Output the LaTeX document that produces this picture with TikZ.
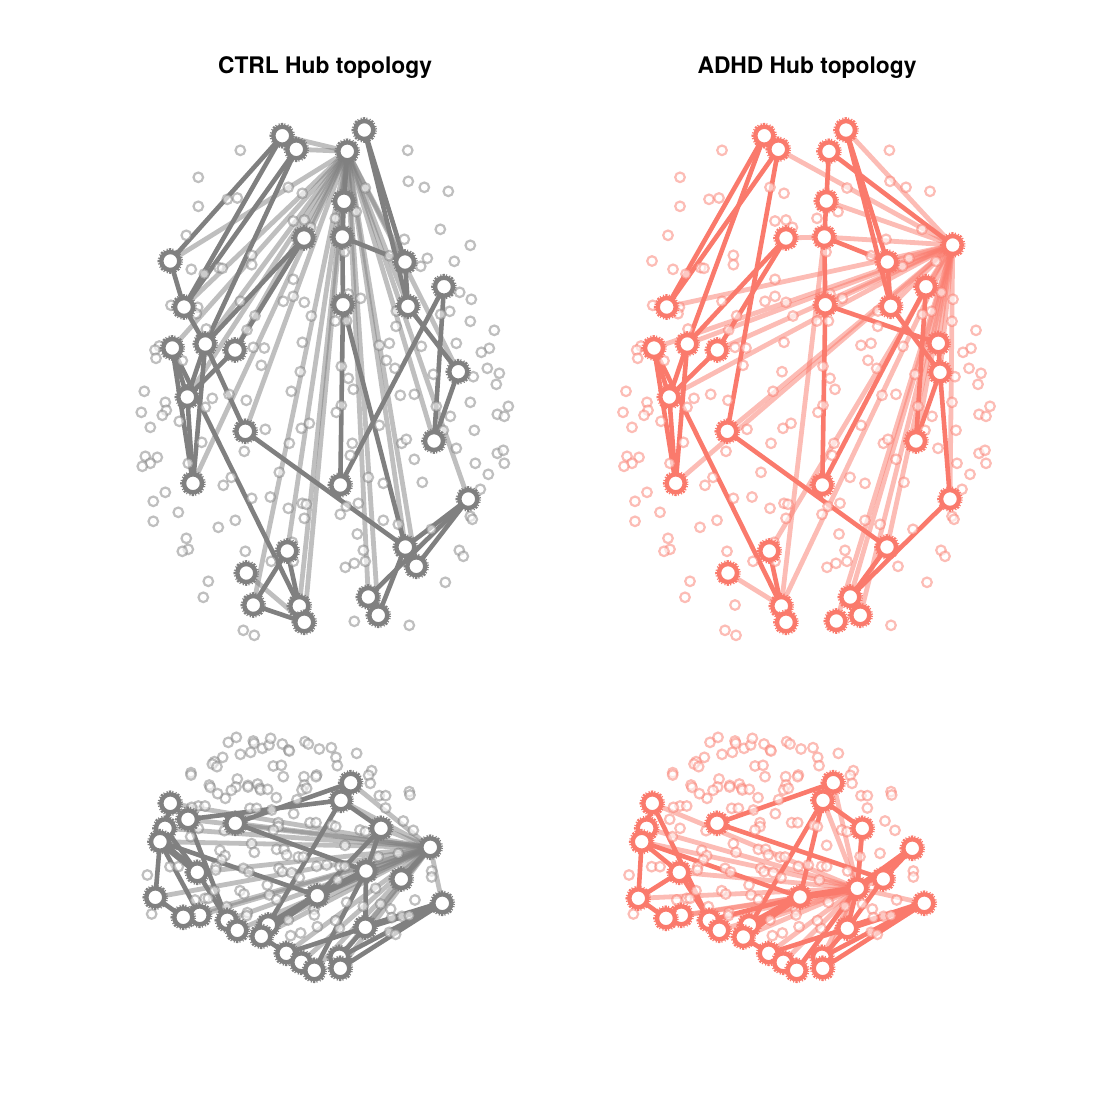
\documentclass[tikz,border=0pt]{standalone}
\usepackage{fontspec}
\setmainfont{TeX Gyre Heros}
\pgfdeclarelayer{edgelayer}
\pgfsetlayers{edgelayer,main}

% small nodes, seen from above
\newcommand{\smalltop}{240.3/150.3,198.3/177.3,198.3/206.3,227.3/199.3,237.3/198,288.3/187.3,302.3/193.3,186.3/235.3,293.3/221,304.3/220,310.7/227.3,251.7/255.3,251.7/264.7,191.3/269.3,219/267.7,222.3/268.3,204.3/274,293.3/279.3,293.3/296.3,283.3/301.3,304.3/302.3,240.3/301.3,255/315.7,311.3/316,171/305.3,197.7/307.3,196.3/313.7,206.3/329,247/330,253.3/347.3,264.3/348,302.3/342.3,261.3/365.3,300.3/371.7,159.3/346,155/350,156/358.3,182.3/360.7,335.3/218.3,356.3/211.7,365.3/188,344.3/252,348.3/294,360.7/298.3,335.3/321,346.7/321,341.3/366.3,348.3/378.3,379.3/345.3,389.3/343.3,386.3/360.3,395/368.3,396/326.3,396.3/311,407.7/150.3,408.3/181.3,424.3/187.3,448.3/191.3,440.3/229.3,470.3/245.3,404.3/239.3,389.3/255.7,427.3/258.3,420.7/266.3,454.3/261.3,459.7/292.3,471.3/299.3,470.3/321.3,449.7/311.3,440.7/314.3,494.3/330.3,489.3/348.3,481.3/352.3,456.3/343.3,421.3/346.3,487.3/368.3,499.3/373.3,433.3/374.3,473.3/376.7,144.3/391.3,165.3/402.3,166.3/410.3,162.3/415.3,141.3/412.3,150.3/427.3,179.3/421.3,212.3/398.3,205.3/407.3,229/394.3,246.3/400.3,265.3/429.3,244.3/451.3,201.7/442.3,145.3/456.3,157.3/457.3,150.3/463.3,142.3/466.3,188.3/463.3,231.3/477.3,223.3/485.3,165.3/492.3,153.3/501.3,178.3/512.3,153.3/521.3,251.7/498.3,270.3/497,235.3/520.3,218.3/527.3,186.3/538.3,188.3/549.3,182.3/551.3,245.3/551.3,208.3/581.3,203.3/597.3,243.3/630.3,254.3/635.3,291.3/391.3,301.3/428.3,309.3/423.3,289.3/443.3,279.3/472.3,288.3/508.3,302.3/503.3,306.3/504.3,304.3/518.3,292.3/542.3,293.3/561.3,271.3/561.3,341.3/405.3,336.3/412.3,353.3/389.3,352.3/443.3,350.3/455.3,368.3/477.3,383.3/483.3,379.3/425.3,400.3/395.3,414.3/394.3,401.7/443.3,406.3/439.3,414.3/459.3,422.3/482.3,456.3/448.3,474.3/430.3,470.3/402.3,496.3/384.3,508.3/406.3,497.3/414.3,504.3/416.3,450.3/416.3,436.3/406.3,443.3/430.3,497.3/453.3,503.3/450.3,504.3/463.3,475.3/463.3,488.3/474.3,480.3/489.3,470.3/516.3,472.3/519.3,459.3/550.3,463.3/556.3,431.3/529.3,445.3/582.3,409.3/625.3,354.3/621.3,345.3/567.3,354.3/563.3,365.3/561.3,363.3/550.3,357.3/534,340.3/514.3,346.3/506.3,358.3/503.3,383.3/520.3,398.3/524.3,170.3/261,253.3/605,416.3/566.3}

% small nodes, seen from the side
\newcommand{\smallside}{295/52,319/37,370/48,372/55,397/70,417/60,422/40,457/57,476/75,478/78,525/50,535/57,568/72,604/68,618/97,622/122,680/85,331/88,362/82,278/97,253/110,247/117,261/125,430/123,454/121,460/155,522/155,560/150,558/155,725/137,716/151,721/175,183/143,183/150,238/180,241/187,322/162,318/186,304/196,286/220,263/206,354/181,354/186,383/177,390/190,392/195,413/193,439/218,523/180,516/195,530/190,501/224,491/266,748/212,767/212,767/249,838/200,840/210,820/288,850/316,360/250,380/250,425/255,205/243,225/243,185/247,445/293,445/305,430/315,540/293,558/293,605/300,617/305,690/315,706/320,283/317,205/310,182/335,365/356,373/382,440/373,462/373,470/390,505/396,520/396,645/361,805/385,745/395,270/376,285/392,275/405,258/425,257/435,120/425,145/425,340/430,357/441,447/430,457/440,485/443,508/458,560/424,590/420,630/424,645/424,623/465,52/450,412/480,330/497,342/507,418/510,440/524,225/520,235/520,195/525,65/567,855/525,905/438,905/456,737/490,700/544,752/537,782/552,650/532,552/553,553/570,475/585,352/563,350/572,290/545,562/605,628/610,617/587,482/632,512/624,785/578,816/574,838/572,778/622,797/628,253/497,174/283,708/438}

\begin{document}
\begin{tikzpicture}[
    x=.5pt, y=-.5pt,
    hub/.style = {circle, fill=white, draw=#1, line width=2.2pt, minimum size=9pt, inner sep=0pt, outer sep=0pt,
        preaction={draw=#1, line width=3.8pt, dash pattern=on .55pt off .6pt}},
    smallnode/.style = {circle, draw=#1, draw opacity=.5, fill=white, fill opacity=.6, line width=1.1pt, minimum size=4.8pt, inner sep=0pt, outer sep=0pt},
    hubline/.style = {draw=#1, line width=2.3pt},
    heavyline/.style = {draw=#1, line width=3.4pt},
    fanline/.style = {draw=#1, draw opacity=.5, line width=2.4pt},
    brainname/.style = {font=\bfseries\fontsize{11.4}{14}\selectfont, inner sep=0pt}
    ]
    \useasboundingbox (0,0) rectangle (1094,1094);
    \definecolor{ctrlcol}{HTML}{808080}
    \definecolor{adhdcol}{HTML}{FA7A6C}

    \node[brainname] (ctrltitle) at (325,68) {CTRL Hub topology};
    \node[brainname] (adhdtitle) at (807,68) {ADHD Hub topology};

    % small nodes
    \foreach \x/\y [count=\i] in \smalltop {
        \node[smallnode=ctrlcol] (ct\i) at (\x,\y) {};
        \node[smallnode=adhdcol] (at\i) at (\x+481.7,\y) {};
    }
    \begin{scope}[shift={(130,725)}, scale=.3333]
        \foreach \x/\y [count=\i] in \smallside
            \node[smallnode=ctrlcol] (cs\i) at (\x,\y) {};
    \end{scope}
    \begin{scope}[shift={(611.7,725)}, scale=.3333]
        \foreach \x/\y [count=\i] in \smallside
            \node[smallnode=adhdcol] (as\i) at (\x,\y) {};
    \end{scope}

    % hubs CTRL, top
    \foreach \n/\x/\y in {1/282.3/135.7,2/296.3/149.3,3/347.3/151.3,4/364.3/130,5/344/201.3,6/304/238,7/342.3/237,8/170.3/261,9/405/262,10/444/286.7,11/184/307,12/343/304.7,13/408/306.3,14/172.3/348,15/205.3/344,16/235/350,17/458.3/371.7,18/187.3/397,19/245.3/431.3,20/434/441,21/193/483.3,22/340.3/485,23/468.3/499,24/405.3/547,25/287.3/551,26/416.3/566.3,27/246.3/573,28/253.3/605,29/299.3/606,30/368.3/597,31/378.3/615.3,32/304.3/622.3}
        \node[hub=ctrlcol] (c\n) at (\x,\y) {};
    % hubs ADHD, top
    \foreach \n/\x/\y in {1/764.3/135.7,2/778.3/149.3,3/829/151.3,4/846/130,5/826.3/201,6/786/238,7/824.3/237,9/887.3/262,10/926/286.7,11/666.7/307,12/825.3/304.7,13/890.7/306.3,14/654/348,15/687.3/344,16/717.3/350,17/940/372.3,18/669.3/397,19/727.3/431.3,20/916/441,21/675.7/483.3,22/822.3/485,23/950/499,24/887/547,25/769.3/551,27/728/573,29/781.3/606,30/850.3/597,31/860.3/615.3,32/786/622.3,33/952.7/245,34/938.3/343.3,35/836.3/621}
        \node[hub=adhdcol] (a\n) at (\x,\y) {};
    % hubs CTRL, side
    \foreach \n/\x/\y in {1/350.7/782.7,2/341/800.3,3/170.3/803.3,4/188/819.3,5/235.3/823.3,6/381/828.3,7/165/828.3,8/160/841.7,9/430.3/847.3,10/366/871,11/197.3/872.3,12/401.3/879,13/317.3/895.7,14/155.3/897.3,15/442.3/903.3,16/199.7/915.3,17/183.3/917.3,18/227.3/920.3,19/237.3/930.3,20/268.3/925,21/261.3/936.3,22/365.3/927.3,23/286.3/953.3,24/301.3/962.3,25/314.3/970.3,26/339.3/957.3,27/340.3/968.3}
        \node[hub=ctrlcol] (d\n) at (\x,\y) {};
    % hubs ADHD, side
    \foreach \n/\x/\y in {1/833.3/782.7,2/823/800.3,3/652.3/803.3,5/717/823.3,6/862.3/828.3,7/646.7/828.3,8/641.7/841.7,9/912.3/848.3,10/857.3/888.3,11/679.3/872.3,12/883.3/879,13/800/897,14/638.3/898.3,15/924.3/903.3,16/681.3/915.3,17/666/918.3,18/709.3/920.3,19/719.3/930.3,20/749.3/925,21/743.3/937,22/847.3/928.3,23/768.7/953.3,24/783.3/962.3,25/796.7/970.3,26/822/957.3,27/822.7/968.3}
        \node[hub=adhdcol] (e\n) at (\x,\y) {};

    \begin{pgfonlayer}{edgelayer}
        % light lines
        \foreach \b in {1,2,6,8,9,11,13,14,15,16,17,18,19,20,21,23,24,25,26,28,29,30,31,32}
            \draw[fanline=ctrlcol] (c3) -- (c\b);
        \draw[fanline=ctrlcol] (c27) -- (c32);
        \foreach \b in {2,4,5,7,9,10,11,12,13,14,15,16,17,18,19,20,21,23,24,25,29,30,31,34,35}
            \draw[fanline=adhdcol] (a33) -- (a\b);
        \draw[fanline=adhdcol] (a6) -- (a7);
        \draw[fanline=adhdcol] (a7) -- (a29);
        \draw[fanline=adhdcol] (a27) -- (a29);
        \foreach \b in {1,2,3,4,5,6,7,8,10,11,12,13,14,15,16,17,18,19,20,21,22,23,24,25,26,27}
            \draw[fanline=ctrlcol] (d9) -- (d\b);
        \foreach \b in {1,2,3,6,7,8,9,11,12,14,15,16,17,18,19,20,21,23,24,25,26,27}
            \draw[fanline=adhdcol] (e10) -- (e\b);

        % hub lines
        \foreach \a/\b in {1/8,1/11,2/11,2/15,8/11,11/15,6/15,6/16,16/18,14/18,14/21,15/18,15/21,18/21,15/19,14/29,3/5,5/7,7/12,12/22,7/9,4/9,4/13,9/13,13/17,10/22,10/20,17/20,12/24,19/24,23/24,23/26,23/30,24/31,25/28,25/29,28/32}
            \draw[hubline=ctrlcol] (c\a) -- (c\b);
        \foreach \a/\b in {1/11,2/11,1/15,2/19,3/5,5/7,7/12,12/22,3/33,4/9,4/13,9/13,7/9,12/34,13/17,34/17,10/22,10/20,17/20,17/23,6/15,6/16,16/18,15/18,14/18,14/21,15/21,18/21,14/29,19/24,23/30,24/30,25/29}
            \draw[hubline=adhdcol] (a\a) -- (a\b);
        \foreach \a/\b in {1/5,2/4,2/6,5/10,2/21,6/10,6/13,10/22,10/25,8/13,4/18,7/11,8/14,8/16,3/7,11/18,13/21,15/26,15/27,22/23,22/26,14/17,21/23,23/24,24/25,18/19,9/12}
            \draw[hubline=ctrlcol] (d\a) -- (d\b);
        \foreach \a/\b in {10/13,8/11,13/20,15/22}
            \draw[heavyline=ctrlcol] (d\a) -- (d\b);
        \foreach \a/\b in {1/5,2/13,2/21,2/6,5/12,8/13,6/10,9/12,10/25,10/22,12/22,7/8,3/7,8/14,8/11,11/14,11/18,3/18,14/17,13/21,13/18,15/26,15/27,22/23,22/26,21/23,23/24,24/25}
            \draw[hubline=adhdcol] (e\a) -- (e\b);
        \foreach \a/\b in {9/10,10/13,13/20,15/22}
            \draw[heavyline=adhdcol] (e\a) -- (e\b);
    \end{pgfonlayer}
\end{tikzpicture}
\end{document}
